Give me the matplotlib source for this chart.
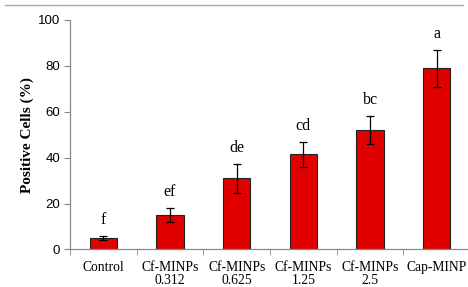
import matplotlib.pyplot as plt
from matplotlib.lines import Line2D
import numpy as np

categories = ['Control', 'Cf-MINPs\n0.312', 'Cf-MINPs\n0.625', 'Cf-MINPs\n1.25',
              'Cf-MINPs\n2.5', 'Cap-MINP']
means = [5, 15, 31, 41.5, 52, 79]
errors = [1, 3, 6.2, 5.5, 6, 8]
letters = ['f', 'ef', 'de', 'cd', 'bc', 'a']

fig = plt.figure(figsize=(4.68, 2.87), dpi=100)
ax = fig.add_axes([0.1496, 0.1307, 0.855, 0.7997])

x = np.arange(len(categories))
ax.bar(x, means, width=0.41, color='#E00000', edgecolor='#222222', linewidth=0.8,
       yerr=errors, error_kw=dict(ecolor='black', elinewidth=0.9, capsize=3, capthick=0.9),
       zorder=2)

# significance letters above the error bars
for xi, m, e, lab in zip(x, means, errors, letters):
    ax.text(xi, m + e + 3.5, lab, ha='center', va='bottom', fontsize=11.5,
            family='Liberation Serif')

ax.set_xlim(-0.5, 5.5)
ax.set_ylim(0, 100)
ax.set_yticks([0, 20, 40, 60, 80, 100])
ax.set_xticks(x)
ax.set_xticklabels(categories, fontsize=9.8, family='Liberation Serif', linespacing=1.05)
ax.set_xticks(np.arange(-0.5, 6, 1), minor=True)
ax.tick_params(axis='x', which='major', length=0, pad=8)
ax.tick_params(axis='x', which='minor', length=4, color='#888888', direction='out')
ax.tick_params(axis='y', length=4, color='#888888', direction='out', pad=3)
for t in ax.get_yticklabels():
    t.set_fontsize(9.5)
    t.set_family('Liberation Sans')

ax.set_ylabel('Positive Cells (%)', fontsize=11, fontweight='bold',
              family='Liberation Serif', labelpad=3)

for side in ['top', 'right']:
    ax.spines[side].set_visible(False)
for side in ['left', 'bottom']:
    ax.spines[side].set_color('#888888')
    ax.spines[side].set_linewidth(0.9)
ax.spines['bottom'].set_zorder(3)

# thin gray rule across the top of the figure
fig.add_artist(Line2D([0.01, 0.99], [0.982, 0.982], color='#aaaaaa', linewidth=1.0,
                      transform=fig.transFigure))

fig.savefig('out.png', dpi=100)
